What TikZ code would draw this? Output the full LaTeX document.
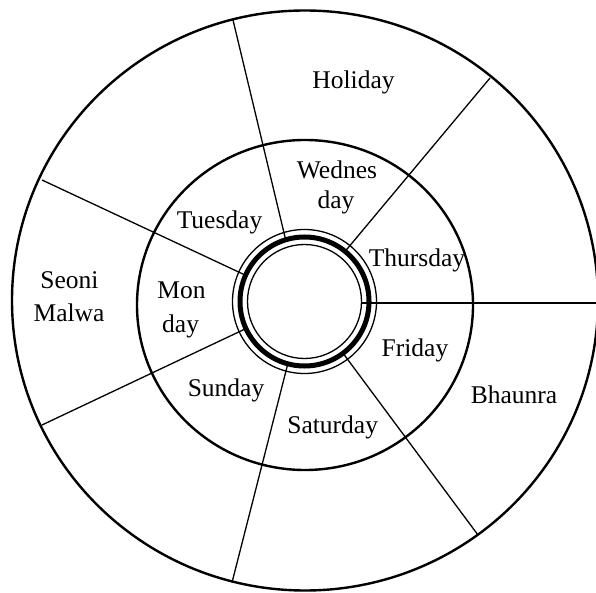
\documentclass[tikz,border=0pt]{standalone}
\usepackage{fontspec}
\setmainfont{Liberation Serif}
\begin{document}
\begin{tikzpicture}[x=1pt,y=1pt,
  ring/.style={draw=black,line width=2.4pt},
  ray/.style={draw=black,line width=1.3pt},
  thin/.style={draw=black,line width=1.3pt},
  lbl/.style={anchor=base,inner sep=0pt,font=\fontsize{25.5}{30}\selectfont}]
\useasboundingbox[fill=white] (0,0) rectangle (596,592);
\coordinate (O) at (305,291.5);
\coordinate (M) at (305,287);
\coordinate (I) at (304.5,290.5);
% outer ends of rays
\coordinate (e1) at (233,572);
\coordinate (e2) at (490,514);
\coordinate (e3) at (600,289);
\coordinate (e4) at (478,57);
\coordinate (e5) at (232,9.5);
\coordinate (e6) at (42,167);
\coordinate (e7) at (42,412);
% inner ends
\coordinate (s1) at ([shift={(I)}]107:64);
\coordinate (s2) at ([shift={(I)}]51:64);
\coordinate (s3) at (361,289);
\coordinate (s4) at ([shift={(I)}]-53.3:64);
\coordinate (s5) at ([shift={(I)}]-105:64);
\coordinate (s6) at ([shift={(I)}]204.8:64);
\coordinate (s7) at ([shift={(I)}]156:64);
\foreach \k in {1,...,7} \draw[ray] (s\k) -- (e\k);
% circles
\draw[ring] (O) ellipse [x radius=293, y radius=290];
\draw[ring] (M) ellipse [x radius=168, y radius=165];
\draw[thin] (I) circle [radius=72];
\draw[draw=black,line width=5pt] (I) circle [radius=64.5];
\draw[thin] (I) circle [radius=57];
% labels
\node[lbl] (hol) at (353.5,503.5) {Holiday};
\node[lbl] (wed1) at (337,413.5) {Wednes};
\node[lbl] (wed2) at (336,383) {day};
\node[lbl] (tue) at (219.5,363.5) {Tuesday};
\node[lbl] (thu) at (417,325.5) {Thursday};
\node[lbl] (seo1) at (69.5,303.5) {Seoni};
\node[lbl] (seo2) at (69,270.5) {Malwa};
\node[lbl] (mon1) at (181.5,293.5) {Mon};
\node[lbl] (mon2) at (180.6,259) {day};
\node[lbl] (fri) at (415,235.5) {Friday};
\node[lbl] (sun) at (226,195.5) {Sunday};
\node[lbl] (sat) at (332.7,158.5) {Saturday};
\node[lbl] (bha) at (514,188.5) {Bhaunra};
\end{tikzpicture}
\end{document}
